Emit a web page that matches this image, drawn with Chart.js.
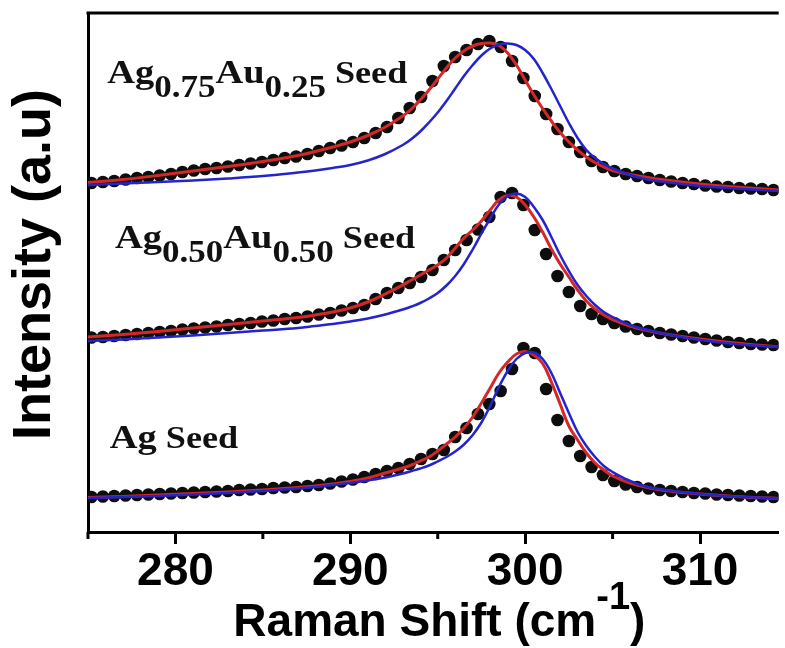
<!DOCTYPE html>
<html>
<head>
<meta charset="utf-8">
<script src="https://cdn.jsdelivr.net/npm/chart.js@4.4.1/dist/chart.umd.min.js"></script>
<style>
  html, body { margin: 0; padding: 0; background: #fff; }
  canvas { display: block; }
</style>
</head>
<body>
<canvas id="ramanChart" width="785" height="648"></canvas>
<script>
// measured points (black dots), Raman shift in cm-1
const dotShift = [
  275.2, 275.85, 276.5, 277.15, 277.8, 278.45, 279.1, 279.75, 280.4, 281.05,
  281.7, 282.35, 283.0, 283.65, 284.3, 284.95, 285.6, 286.25, 286.9, 287.55,
  288.2, 288.85, 289.5, 290.15, 290.8, 291.45, 292.1, 292.75, 293.4, 294.05,
  294.7, 295.35, 296.0, 296.65, 297.3, 297.95, 298.6, 299.25, 299.9, 300.55,
  301.2, 301.85, 302.5, 303.15, 303.8, 304.45, 305.1, 305.75, 306.4, 307.05,
  307.7, 308.35, 309.0, 309.65, 310.3, 310.95, 311.6, 312.25, 312.9, 313.55,
  314.2
];
const ag75Dots = [
  69.8, 70.0, 70.2, 70.5, 70.8, 71.0, 71.3, 71.6, 72.0, 72.3,
  72.6, 72.8, 73.1, 73.4, 73.7, 74.0, 74.4, 74.8, 75.1, 75.6,
  76.2, 76.8, 77.3, 78.0, 78.8, 79.8, 81.0, 82.8, 84.8, 87.0,
  90.2, 93.2, 95.0, 96.4, 97.6, 98.2, 97.0, 94.2, 90.8, 87.2,
  83.6, 80.6, 78.0, 76.0, 74.2, 73.0, 72.2, 71.6, 71.2, 70.8,
  70.4, 70.1, 69.8, 69.6, 69.3, 69.1, 69.0, 68.8, 68.7, 68.6,
  68.4
];
const ag50Dots = [
  38.9, 39.0, 39.2, 39.4, 39.6, 39.8, 40.0, 40.2, 40.5, 40.7,
  40.9, 41.1, 41.4, 41.6, 41.8, 42.1, 42.3, 42.6, 42.8, 43.1,
  43.5, 43.8, 44.3, 44.8, 45.4, 46.6, 47.8, 48.8, 49.8, 51.0,
  52.4, 54.4, 56.4, 58.4, 60.5, 63.0, 67.0, 67.8, 65.4, 60.4,
  55.6, 51.2, 48.0, 45.2, 43.6, 42.6, 41.8, 41.1, 40.6, 40.2,
  39.8, 39.5, 39.2, 38.9, 38.6, 38.3, 38.0, 37.8, 37.6, 37.5,
  37.4
];
const agDots = [
  7.0, 7.1, 7.2, 7.3, 7.4, 7.5, 7.6, 7.7, 7.8, 7.9,
  8.0, 8.1, 8.2, 8.4, 8.5, 8.6, 8.8, 8.9, 9.0, 9.2,
  9.4, 9.7, 10.1, 10.5, 11.0, 11.6, 12.2, 12.8, 13.6, 14.6,
  15.6, 16.4, 19.0, 20.8, 23.6, 25.6, 28.2, 32.6, 36.8, 35.8,
  28.6, 22.4, 18.2, 15.2, 13.0, 11.4, 10.2, 9.5, 9.0, 8.7,
  8.4, 8.2, 8.0, 7.8, 7.7, 7.5, 7.4, 7.3, 7.2, 7.1,
  7.0
];

// fitted curves (red and blue lines)
const fitShift = [
  275, 277, 279, 281, 283, 285, 287, 288, 289, 290,
  291, 292, 293, 293.5, 294, 294.5, 295, 295.5, 296, 296.5,
  297, 297.5, 298, 298.5, 299, 299.5, 300, 300.5, 301, 301.5,
  302, 302.5, 303, 303.5, 304, 304.5, 305, 306, 307, 308,
  310, 312, 314.5
];
const ag75Red = [
  69.9, 70.5, 71.3, 72.2, 73.1, 74.1, 75.3, 76.1, 77.0, 78.0,
  79.3, 81.0, 83.2, 84.6, 86.4, 88.4, 90.6, 92.8, 94.8, 96.2,
  97.2, 97.7, 97.8, 97.3, 95.8, 93.4, 90.4, 87.4, 84.7, 82.2,
  79.9, 78.0, 76.4, 75.0, 73.9, 73.0, 72.3, 71.5, 70.9, 70.4,
  69.6, 69.0, 68.4
];
const ag75Blue = [
  69.4, 69.7, 70.0, 70.3, 70.7, 71.2, 71.9, 72.3, 72.8, 73.4,
  74.3, 75.6, 77.4, 78.6, 80.1, 81.9, 83.9, 86.2, 88.7, 91.2,
  93.4, 95.3, 96.7, 97.5, 97.7, 97.4, 96.4, 94.6, 91.8, 88.6,
  85.2, 81.8, 78.8, 76.4, 74.8, 73.6, 72.7, 71.4, 70.5, 70.0,
  69.2, 68.7, 68.2
];
const ag50Red = [
  39.0, 39.5, 40.1, 40.8, 41.5, 42.2, 42.9, 43.4, 44.0, 44.8,
  46.0, 47.6, 49.4, 50.4, 51.4, 52.4, 53.4, 54.8, 56.8, 58.8,
  60.4, 62.2, 64.4, 66.4, 67.3, 67.0, 65.4, 63.0, 60.0, 56.6,
  53.6, 51.0, 48.4, 46.2, 44.6, 43.4, 42.5, 41.2, 40.3, 39.6,
  38.6, 37.8, 37.0
];
const ag50Blue = [
  38.2, 38.5, 38.9, 39.3, 39.8, 40.3, 40.8, 41.2, 41.6, 42.1,
  42.7, 43.5, 44.5, 45.1, 45.8, 46.7, 47.8, 49.3, 51.2, 53.6,
  56.5, 59.7, 62.7, 65.5, 67.2, 67.7, 67.0, 65.0, 62.4, 59.0,
  55.4, 52.2, 49.4, 47.2, 45.4, 44.0, 43.0, 41.4, 40.4, 39.6,
  38.4, 37.6, 37.0
];
const agRed = [
  6.9, 7.1, 7.4, 7.7, 8.0, 8.4, 8.9, 9.2, 9.6, 10.1,
  10.8, 11.8, 12.8, 13.4, 14.2, 15.0, 16.2, 17.6, 19.0, 20.8,
  23.0, 25.8, 28.8, 31.8, 34.0, 35.6, 36.1, 35.4, 33.7, 30.0,
  25.6, 21.2, 18.4, 15.8, 13.8, 12.4, 11.2, 9.8, 8.9, 8.3,
  7.6, 7.1, 6.7
];
const agBlue = [
  6.8, 7.0, 7.2, 7.5, 7.8, 8.2, 8.7, 9.0, 9.4, 9.8,
  10.3, 10.9, 11.7, 12.2, 12.7, 13.3, 14.1, 15.0, 16.1, 17.5,
  19.4, 21.9, 25.2, 29.0, 32.2, 34.6, 35.8, 35.9, 34.6, 31.8,
  27.8, 23.8, 20.0, 17.2, 15.0, 13.2, 12.0, 10.2, 9.0, 8.4,
  7.6, 7.1, 6.7
];

const xMajorTicks = [280, 290, 300, 310];
const xMinorTicks = [275, 285, 295, 305];

// sample labels: [main, sub, main, sub, tail]
const sampleLabels = [
  ['Ag', '0.75', 'Au', '0.25', ' Seed'],
  ['Ag', '0.50', 'Au', '0.50', ' Seed'],
  ['Ag', '', '', '', ' Seed']
];

const pts = (xs, ys) => xs.map((x, i) => ({ x: x, y: ys[i] }));

const SANS = '"Liberation Sans", Arial, sans-serif';
const SERIF = '"Liberation Serif", "Times New Roman", serif';

const lineSet = (data, color, width, order) => ({
  data: data, borderColor: color, borderWidth: width, pointRadius: 0,
  showLine: true, tension: 0.4, order: order
});
const dotSet = (data) => ({
  data: data, showLine: false, pointRadius: 6.3, pointBorderWidth: 0,
  pointBackgroundColor: '#0d0d0d', order: 2
});

const decor = {
  id: 'decor',
  afterDraw(chart) {
    const ctx = chart.ctx;
    const area = chart.chartArea;
    const xs = chart.scales.x, ys = chart.scales.y;
    ctx.save();
    // top frame line
    ctx.strokeStyle = '#000';
    ctx.lineWidth = 3;
    ctx.beginPath();
    ctx.moveTo(area.left - 1.5, area.top);
    ctx.lineTo(area.right, area.top);
    ctx.stroke();
    // minor ticks
    xMinorTicks.forEach(v => {
      const px = xs.getPixelForValue(v);
      ctx.beginPath();
      ctx.moveTo(px, area.bottom);
      ctx.lineTo(px, area.bottom + 7);
      ctx.stroke();
    });
    // sample labels
    const anchors = [[276.1, 89.8], [276.55, 56.8], [276.25, 16.8]];
    sampleLabels.forEach((parts, k) => {
      const x = xs.getPixelForValue(anchors[k][0]);
      const y = ys.getPixelForValue(anchors[k][1]);
      ctx.save();
      ctx.translate(x, y);
      ctx.scale(1.13, 1);
      ctx.fillStyle = '#111';
      ctx.textBaseline = 'alphabetic';
      let cx = 0;
      parts.forEach((t, i) => {
        if (!t) return;
        const isSub = i === 1 || i === 3;
        const size = isSub ? 31 : (i === 4 ? 32 : 34);
        ctx.font = 'bold ' + size + 'px ' + SERIF;
        ctx.fillText(t, cx, isSub ? 14 : 0);
        cx += ctx.measureText(t).width;
      });
      ctx.restore();
    });
    // y title
    ctx.fillStyle = '#000';
    ctx.save();
    ctx.translate(50, (area.top + area.bottom) / 2 - 8);
    ctx.rotate(-Math.PI / 2);
    ctx.font = 'bold 54px ' + SANS;
    ctx.textAlign = 'center';
    ctx.textBaseline = 'alphabetic';
    ctx.fillText('Intensity (a.u)', 0, 0);
    ctx.restore();
    // x title with superscript
    const main = 'Raman Shift (cm';
    ctx.font = 'bold 46px ' + SANS;
    const w1 = ctx.measureText(main).width;
    ctx.font = 'bold 38px ' + SANS;
    const w2 = ctx.measureText('-1').width;
    ctx.font = 'bold 46px ' + SANS;
    const w3 = ctx.measureText(')').width;
    let tx = (area.left + area.right) / 2 + 6 - (w1 + w2 + w3) / 2;
    const base = 636;
    ctx.textAlign = 'left';
    ctx.fillText(main, tx, base);
    tx += w1;
    ctx.font = 'bold 38px ' + SANS;
    ctx.fillText('-1', tx, base - 27);
    tx += w2;
    ctx.font = 'bold 46px ' + SANS;
    ctx.fillText(')', tx, base);
    ctx.restore();
  }
};

new Chart(document.getElementById('ramanChart'), {
  type: 'scatter',
  data: {
    datasets: [
      lineSet(pts(fitShift, ag75Blue), '#2424cc', 2.5, 0),
      lineSet(pts(fitShift, ag50Blue), '#2424cc', 2.5, 0),
      lineSet(pts(fitShift, agBlue), '#2424cc', 2.5, 0),
      lineSet(pts(fitShift, ag75Red), '#d42828', 3, 1),
      lineSet(pts(fitShift, ag50Red), '#d42828', 3, 1),
      lineSet(pts(fitShift, agRed), '#d42828', 3, 1),
      dotSet(pts(dotShift, ag75Dots)),
      dotSet(pts(dotShift, ag50Dots)),
      dotSet(pts(dotShift, agDots))
    ]
  },
  options: {
    responsive: false,
    animation: false,
    devicePixelRatio: 1,
    layout: { padding: { top: 13, left: 0, right: 0, bottom: 0 } },
    plugins: { legend: { display: false }, tooltip: { enabled: false } },
    scales: {
      x: {
        type: 'linear',
        min: 275,
        max: 314.5,
        afterFit(scale) { scale.height = 116; },
        afterBuildTicks(scale) { scale.ticks = xMajorTicks.map(v => ({ value: v })); },
        ticks: {
          includeBounds: false,
          autoSkip: false,
          maxRotation: 0,
          padding: 1,
          color: '#000',
          font: { family: SANS, size: 46, weight: 'bold' }
        },
        grid: { drawOnChartArea: false, tickLength: 12, tickWidth: 3, tickColor: '#000' },
        border: { color: '#000', width: 3 }
      },
      y: {
        min: 0,
        max: 103.8,
        afterFit(scale) { scale.width = 88; },
        ticks: { display: false },
        grid: { display: false },
        border: { color: '#000', width: 3 }
      }
    }
  },
  plugins: [decor]
});
</script>
</body>
</html>
